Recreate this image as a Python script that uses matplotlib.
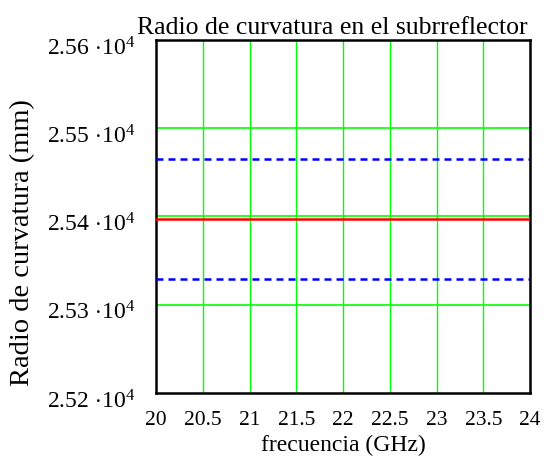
import matplotlib
matplotlib.use("Agg")
import matplotlib.pyplot as plt
from matplotlib.ticker import FixedLocator, FuncFormatter
from matplotlib.transforms import ScaledTranslation

plt.rcParams["font.family"] = ["Liberation Serif", "DejaVu Serif"]
plt.rcParams["mathtext.fontset"] = "custom"
plt.rcParams["mathtext.rm"] = "Liberation Serif"
plt.rcParams["mathtext.it"] = "Liberation Serif:italic"

# Datos
frecuencia = [20, 21, 22, 23, 24]
radio = [25397, 25397, 25397, 25397, 25397]
radio_sup = [25465, 25465, 25465, 25465, 25465]
radio_inf = [25329, 25329, 25329, 25329, 25329]

x_ticks = [20, 20.5, 21, 21.5, 22, 22.5, 23, 23.5, 24]
y_ticks = [25200, 25300, 25400, 25500, 25600]

fig = plt.figure(figsize=(5.48, 4.64), dpi=100)
ax = fig.add_axes([0.2847, 0.1509, 0.6825, 0.7607])

# Rejilla verde estilo Mathcad
for xv in x_ticks[1:-1]:
    ax.axvline(xv, color="#00ff00", lw=1.0, zorder=1)
for yv in y_ticks[1:]:
    ax.axhline(yv, color="#00ff00", lw=1.2, zorder=1)

ax.plot(frecuencia, radio, color="#ff0000", lw=1.8, zorder=3)
ax.plot(frecuencia, radio_sup, color="#0000ff", lw=1.8,
        dashes=(2.8, 2.0), zorder=3)
ax.plot(frecuencia, radio_inf, color="#0000ff", lw=1.8,
        dashes=(2.8, 2.0), zorder=3)

ax.set_xlim(20, 24)
ax.set_ylim(25200, 25600)

ax.xaxis.set_major_locator(FixedLocator(x_ticks))
ax.yaxis.set_major_locator(FixedLocator(y_ticks))
ax.xaxis.set_major_formatter(FuncFormatter(lambda v, p: f"{v:g}"))
ax.yaxis.set_major_formatter(
    FuncFormatter(lambda v, p: r"$%.2f\,\cdot\!10^{4}$" % (v / 1e4))
)
ax.tick_params(axis="x", length=0, labelsize=15.5, pad=12)
ax.tick_params(axis="y", length=0, labelsize=17, pad=15)

# etiquetas del eje y un poco mas abajo, como en Mathcad
desplazar = ScaledTranslation(0, -5 / 100, fig.dpi_scale_trans)
for lbl in ax.get_yticklabels():
    lbl.set_transform(lbl.get_transform() + desplazar)

for s in ax.spines.values():
    s.set_color("black")
    s.set_linewidth(1.8)

ax.set_title("Radio de curvatura en el subrreflector", fontsize=18.5,
             x=0.472, pad=5)
ax.set_xlabel("frecuencia (GHz)", fontsize=17, labelpad=4)
ax.set_ylabel("Radio de curvatura (mm)", fontsize=20.5)
ax.yaxis.set_label_coords(-0.322, 0.43)

fig.savefig("out.png", dpi=100)
